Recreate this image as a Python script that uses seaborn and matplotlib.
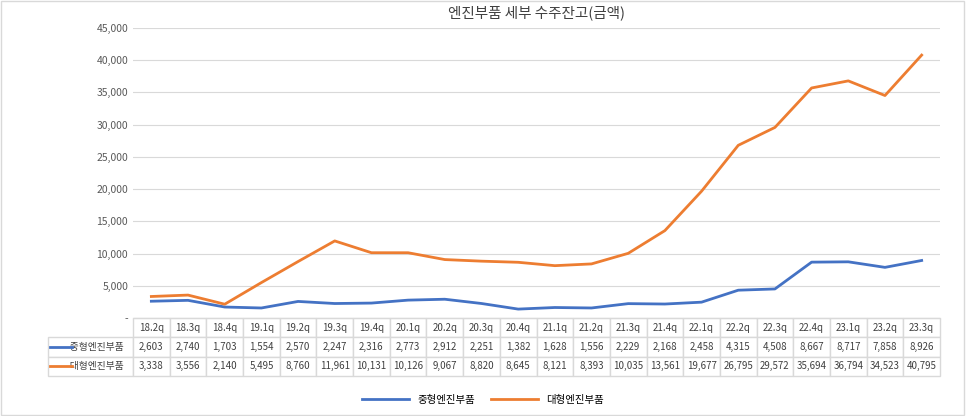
import matplotlib
matplotlib.use("Agg")
import matplotlib.pyplot as plt
from matplotlib import font_manager
import seaborn as sns
import pandas as pd

avail = {f.name for f in font_manager.fontManager.ttflist}
fam = next((f for f in ["Noto Sans CJK KR", "Noto Sans CJK JP", "Noto Sans CJK SC", "Noto Sans CJK TC"] if f in avail), "DejaVu Sans")
plt.rcParams["font.family"] = [fam, "DejaVu Sans"]

categories = ["18.2q","18.3q","18.4q","19.1q","19.2q","19.3q","19.4q","20.1q","20.2q","20.3q","20.4q",
              "21.1q","21.2q","21.3q","21.4q","22.1q","22.2q","22.3q","22.4q","23.1q","23.2q","23.3q"]
mid = [2603,2740,1703,1554,2570,2247,2316,2773,2912,2251,1382,1628,1556,2229,2168,2458,4315,4508,8667,8717,7858,8926]
large = [3338,3556,2140,5495,8760,11961,10131,10126,9067,8820,8645,8121,8393,10035,13561,19677,26795,29572,35694,36794,34523,40795]
series_names = ["중형엔진부품", "대형엔진부품"]
colors = ["#4472C4", "#ED7D31"]

df = pd.DataFrame({"q": list(range(len(categories))) * 2,
                   "v": mid + large,
                   "s": [series_names[0]] * len(mid) + [series_names[1]] * len(large)})

fig = plt.figure(figsize=(9.66, 4.16), dpi=100)
fig.patches.append(plt.Rectangle((0.001, 0.002), 0.997, 0.995, transform=fig.transFigure,
                                 fill=False, edgecolor="#d9d9d9", lw=1))
ax = fig.add_axes([133/966, 1-318/416, 807/966, 290/416])
sns.lineplot(data=df, x="q", y="v", hue="s", palette=colors, ax=ax, lw=2, legend=False)
ax.set_xlim(-0.5, len(categories)-0.5)
ax.set_ylim(0, 45000)
ax.set_yticks(range(0, 45001, 5000))
ax.set_yticklabels(["-"] + [f"{v:,}" for v in range(5000, 45001, 5000)], fontsize=7.5, color="#595959")
ax.set_xticks([])
ax.set_xlabel(""); ax.set_ylabel("")
ax.grid(axis="y", color="#d9d9d9", lw=0.8)
for s in ["top", "right", "left"]:
    ax.spines[s].set_visible(False)
ax.spines["bottom"].set_color("#d9d9d9")
ax.tick_params(length=0)
ax.set_title("엔진부품 세부 수주잔고(금액)", fontsize=10.5, color="#404040", pad=8)

n = len(categories)
lab_w = 85 / 807
cell_text = [[c for c in categories], [f"{v:,}" for v in mid], [f"{v:,}" for v in large]]
full = [[""] + cell_text[0], ["      " + series_names[0]] + cell_text[1], ["      " + series_names[1]] + cell_text[2]]
tab = ax.table(cellText=full, bbox=[-lab_w, -0.2, 1 + lab_w, 0.2],
               colWidths=[lab_w] + [1/n]*n, cellLoc="center")
tab.auto_set_font_size(False)
tab.set_fontsize(7)
for (r, c), cell in tab.get_celld().items():
    cell.set_edgecolor("#d9d9d9")
    cell.get_text().set_color("#404040")
    if r == 0 and c == 0:
        cell.set_edgecolor("white")
    if c == 0 and r > 0:
        cell.get_text().set_ha("left")
        cell._loc = "left"
for i, col in enumerate(colors):
    y = -0.2 + 0.2 * (2 - i - 0.5) / 3
    ax.plot([-lab_w + 0.003, -lab_w + 0.03], [y, y], color=col, lw=2,
            transform=ax.transAxes, clip_on=False)

from matplotlib.lines import Line2D
handles = [Line2D([], [], color=c, lw=2) for c in colors]
fig.legend(handles, series_names, loc="center", bbox_to_anchor=(0.5, 1-400/416), ncol=2,
           frameon=False, fontsize=7.5, handlelength=4.5, columnspacing=1.5)
fig.savefig("out.png", dpi=100)
